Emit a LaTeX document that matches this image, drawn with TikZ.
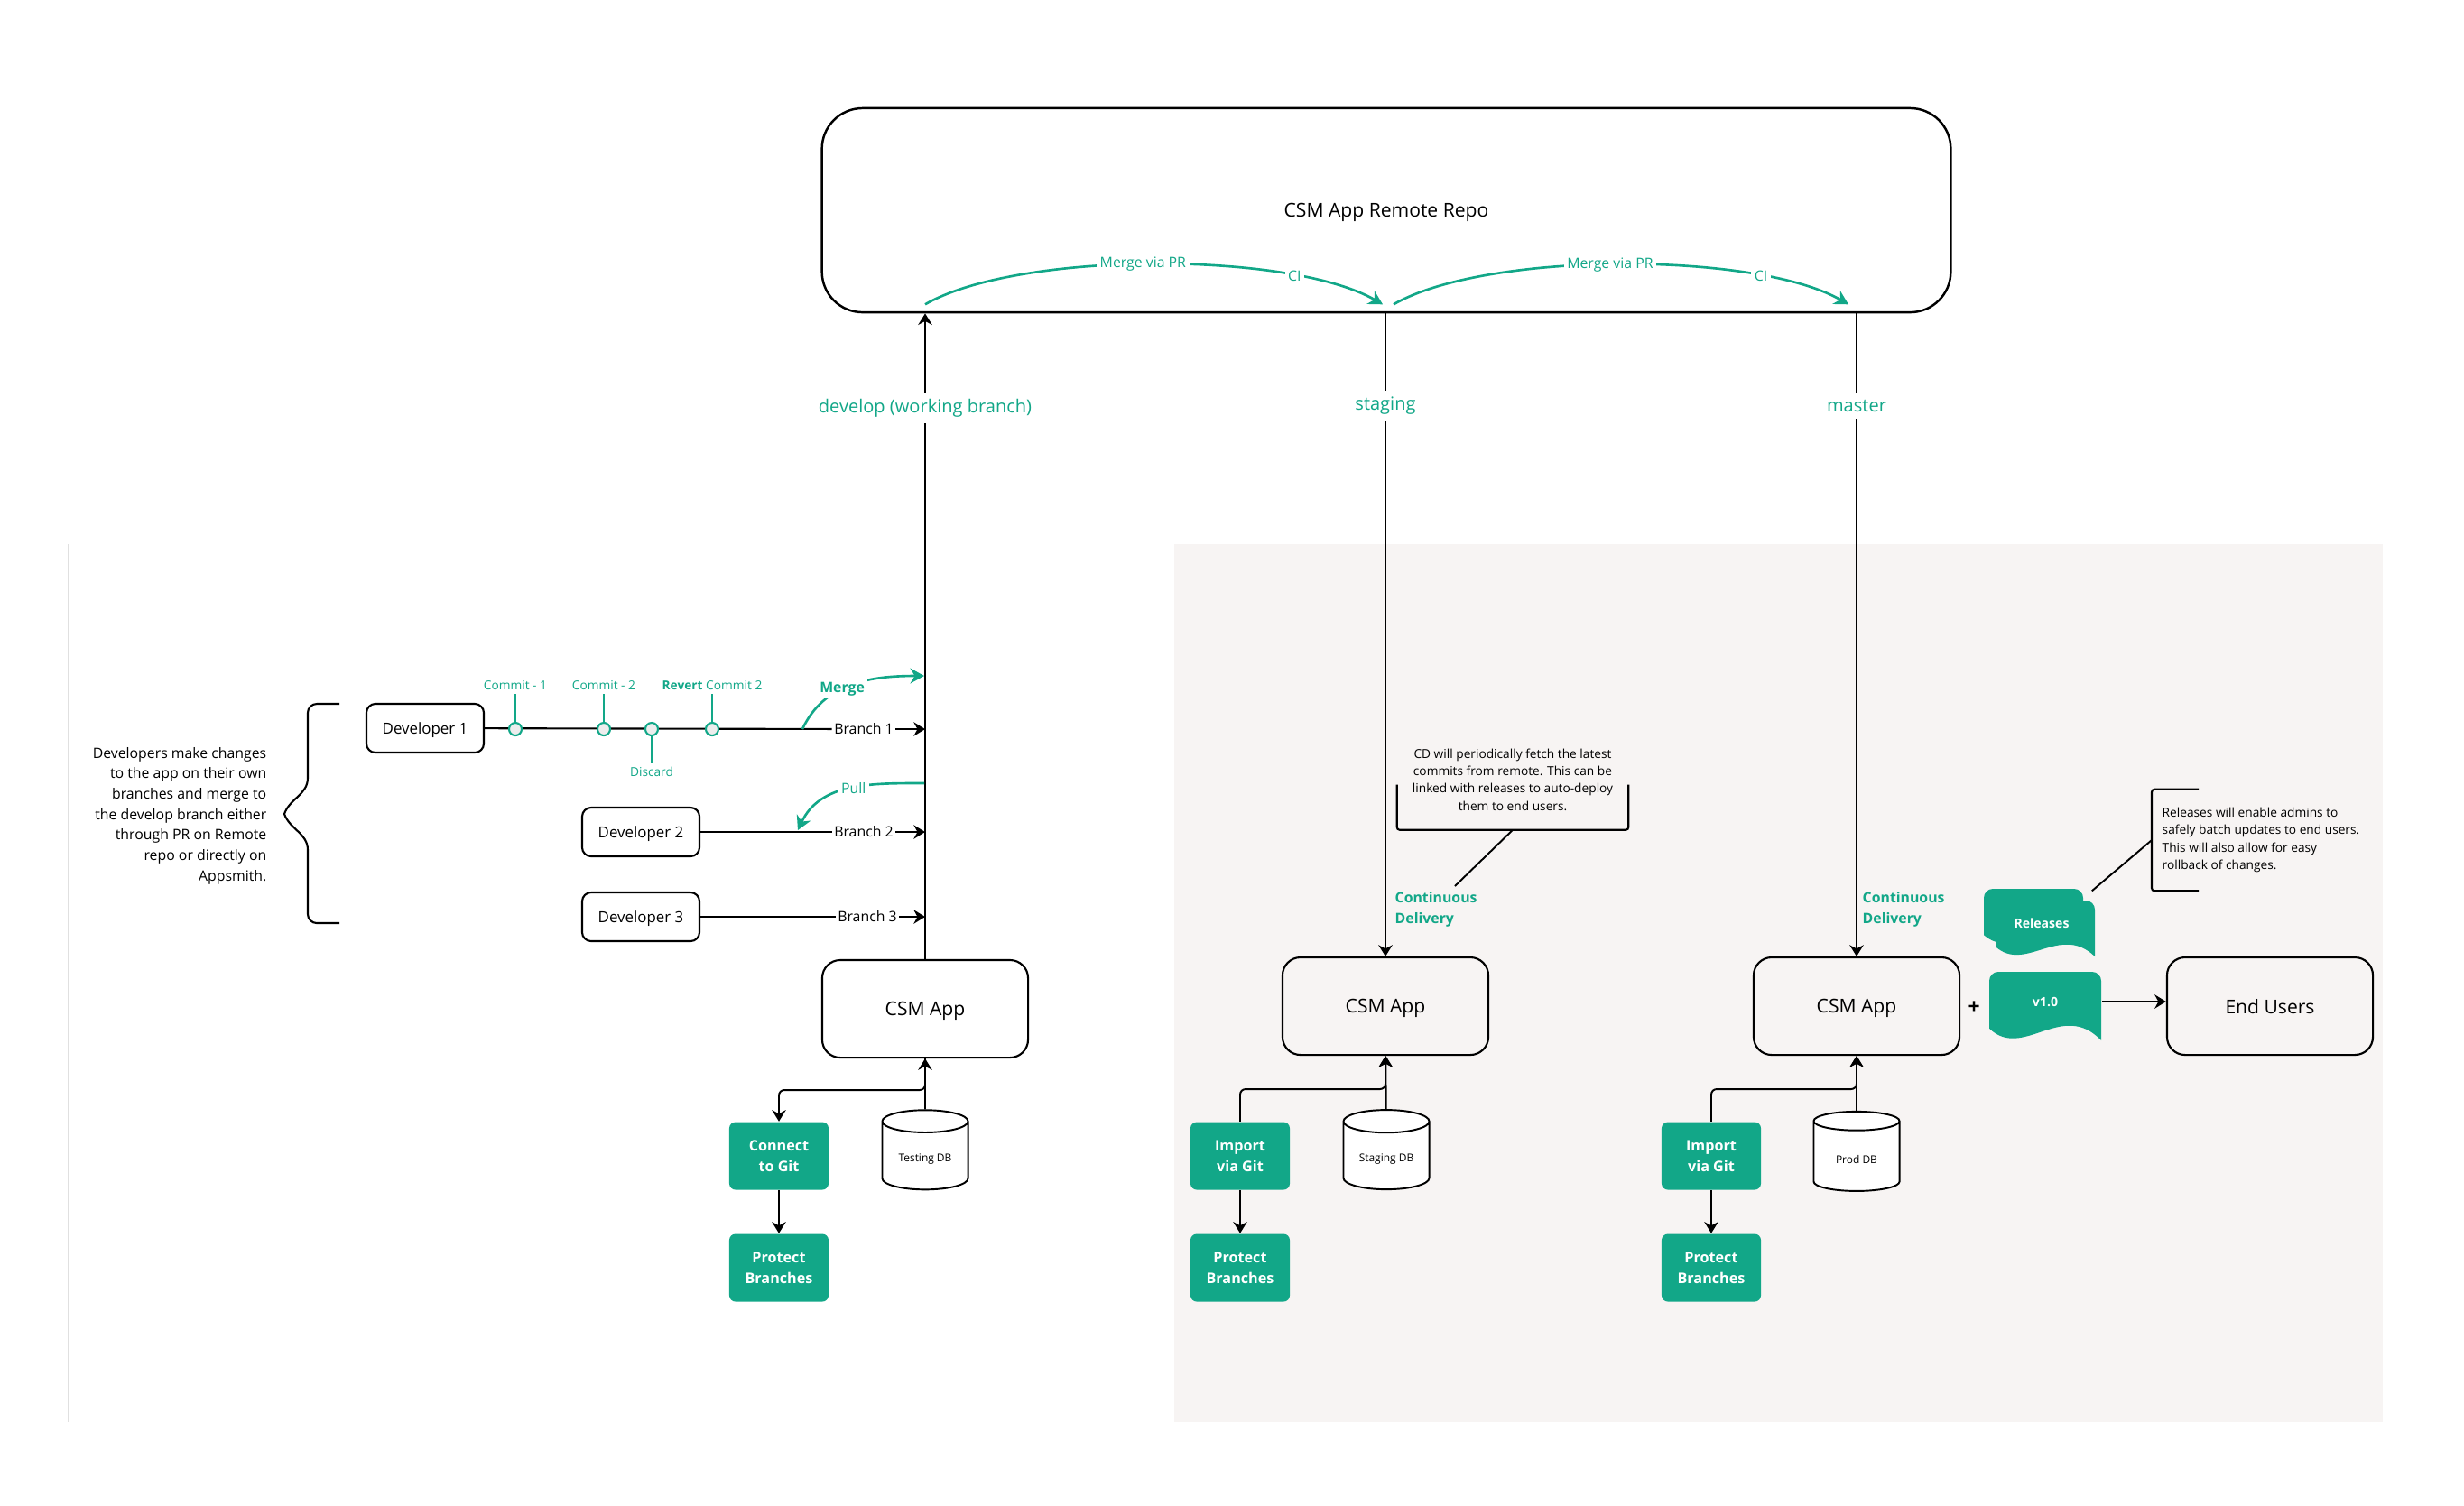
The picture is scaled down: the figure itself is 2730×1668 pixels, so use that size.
\documentclass[tikz,border=0pt]{standalone}
\usepackage{fontspec}
\setmainfont{Open Sans}
\usepackage{tikz}
\usetikzlibrary{shapes.geometric, arrows.meta, positioning, calc}
\usepackage{xcolor}
\definecolor{gitgreen}{HTML}{12A788}
\definecolor{panelgray}{HTML}{F7F4F3}
\definecolor{commitfill}{HTML}{EDEDED}

% wavy document shape: centre x, centre y, half width, half height
\newcommand\wavedoc[4]{%
  \fill[gitgreen] ({#1-#3},{#2-0.65*#4}) -- ({#1-#3},{#2+#4-10})
    arc[start angle=180, end angle=90, radius=0.1cm] -- ({#1+#3-10},{#2+#4})
    arc[start angle=90, end angle=0, radius=0.1cm] -- ({#1+#3},{#2-#4})
    .. controls ({#1+0.3*#3},{#2+0.2*#4}) and ({#1-0.4*#3},{#2-1.6*#4}) .. ({#1-#3},{#2-0.65*#4}) -- cycle;}

\tikzset{
  arr/.style={-{Stealth[length=3.6pt,width=4.4pt]}, line width=0.55pt},
  greenarr/.style={gitgreen, line width=0.75pt, -{Stealth[length=4.4pt,width=4.8pt]}},
  appbox/.style={draw, line width=0.6pt, rounded corners=0.2cm, minimum width=2.28cm, minimum height=1.08cm, text depth=0pt, font=\fontsize{6}{7.2}\selectfont},
  devbox/.style={draw, line width=0.6pt, rounded corners=0.1cm, minimum width=1.3cm, minimum height=0.54cm, text depth=0pt, font=\fontsize{4.8}{5.8}\selectfont},
  gitbox/.style={fill=gitgreen, text=white, rounded corners=0.07cm, minimum width=1.1cm, minimum height=0.75cm, align=center, text depth=0pt, font=\fontsize{4.6}{6.6}\selectfont\bfseries},
  dbcyl/.style={cylinder, shape border rotate=90, draw, line width=0.55pt, fill=white, aspect=0.3, minimum width=0.95cm, minimum height=0.88cm, font=\fontsize{3.4}{4}\selectfont},
  branchtxt/.style={inner sep=0.6pt, font=\fontsize{4.5}{5.4}\selectfont},
  commit/.style={circle, draw=gitgreen, fill=commitfill, line width=0.6pt, minimum size=0.14cm, inner sep=0},
  commitlbl/.style={text=gitgreen, inner sep=1pt, font=\fontsize{3.9}{4.6}\selectfont},
  flowlbl/.style={text=gitgreen, fill=white, inner sep=1pt, font=\fontsize{4.5}{5.4}\selectfont},
  branchlbl/.style={text=gitgreen, fill=white, inner sep=2pt, font=\fontsize{5.7}{6.8}\selectfont},
  cdlbl/.style={text=gitgreen, align=left, inner sep=0, font=\fontsize{4.5}{6.45}\selectfont\bfseries},
  notetxt/.style={inner sep=0, font=\fontsize{3.9}{5.5}\selectfont},
  doclbl/.style={text=white, inner sep=0, font=\fontsize{4}{4.8}\selectfont\bfseries},
}

\begin{document}
\begin{tikzpicture}[x=0.01cm, y=0.01cm]
\useasboundingbox (0,0) rectangle (2730,-1668);

% panels
\fill[panelgray] (1301,-603) rectangle (2640,-1576);
\draw[black!12, line width=0.5pt] (76,-603) -- (76,-1576);

% remote repo
\node[draw, line width=0.7pt, rounded corners=0.45cm, minimum width=12.5cm, minimum height=2.26cm, text depth=0pt, font=\fontsize{6}{7.2}\selectfont] (repo) at (1536,-233) {CSM App Remote Repo};

% apps
\node[appbox] (app1) at (1025,-1118) {CSM App};
\node[appbox] (app2) at (1535,-1115) {CSM App};
\node[appbox] (app3) at (2057,-1115) {CSM App};
\node[appbox] (users) at (2515,-1115) {End Users};

% git steps
\node[gitbox] (git1) at (863,-1281) {Connect\\to Git};
\node[gitbox] (prot1) at (863,-1405) {Protect\\Branches};
\node[gitbox] (imp2) at (1374,-1281) {Import\\via Git};
\node[gitbox] (prot2) at (1374,-1405) {Protect\\Branches};
\node[gitbox] (imp3) at (1896,-1281) {Import\\via Git};
\node[gitbox] (prot3) at (1896,-1405) {Protect\\Branches};

% databases
\node[dbcyl] (db1) at (1025,-1285) {Testing DB};
\node[dbcyl] (db2) at (1536,-1285) {Staging DB};
\node[dbcyl] (db3) at (2057,-1285) {Prod DB};

\coordinate (j1) at (1025,-1208);
\coordinate (j2) at (1535,-1207);
\coordinate (j3) at (2057,-1207);

\draw[arr] (db1) -- (app1);
\draw[arr, rounded corners=0.06cm] (app1.south) -- (j1) -| (git1.north);
\draw[arr] (git1) -- (prot1);
\draw[arr] (db2) -- (app2);
\draw[arr, rounded corners=0.06cm] (imp2.north) |- (j2) -- (app2.south);
\draw[arr] (imp2) -- (prot2);
\draw[arr] (db3) -- (app3);
\draw[arr, rounded corners=0.06cm] (imp3.north) |- (j3) -- (app3.south);
\draw[arr] (imp3) -- (prot3);

% branches to remote
\draw[arr] (app1.north) -- node[pos=0.854, branchlbl] (devlbl) {develop (working branch)} (app1.north |- repo.south);
\draw[arr] (app2.north |- repo.south) -- node[pos=0.144, branchlbl] (stglbl) {staging} (app2.north);
\draw[arr] (app3.north |- repo.south) -- node[pos=0.144, branchlbl] (mstlbl) {master} (app3.north);

\draw[greenarr] ([yshift=0.1cm]app1.north |- repo.south) to[out=30, in=150, looseness=0.6]
  node[pos=0.48, flowlbl] (mpr1) {Merge via PR} node[pos=0.77, flowlbl] (ci1) {CI}
  ([xshift=-0.03cm, yshift=0.1cm]app2.north |- repo.south);
\draw[greenarr] ([xshift=0.09cm, yshift=0.1cm]app2.north |- repo.south) to[out=30, in=150, looseness=0.6]
  node[pos=0.48, flowlbl] (mpr2) {Merge via PR} node[pos=0.77, flowlbl] (ci2) {CI}
  ([xshift=-0.09cm, yshift=0.1cm]app3.north |- repo.south);

% developers
\node[devbox] (dev1) at (471,-807) {Developer 1};
\node[devbox] (dev2) at (710,-922) {Developer 2};
\node[devbox] (dev3) at (710,-1016) {Developer 3};
\node[branchtxt] (b1) at (957,-808) {Branch 1};
\node[branchtxt] (b2) at (957,-922) {Branch 2};
\node[branchtxt] (b3) at (961,-1016) {Branch 3};

\draw[line width=0.6pt] (dev1) -- (b1);
\draw[line width=0.6pt] (dev2) -- (b2);
\draw[line width=0.6pt] (dev3) -- (b3);
\draw[arr] (b1) -- (b1 -| app1.north);
\draw[arr] (b2) -- (b2 -| app1.north);
\draw[arr] (b3) -- (b3 -| app1.north);

% commits
\node[commitlbl] (c1l) at (571,-760) {Commit - 1};
\node[commitlbl] (c2l) at (669,-760) {Commit - 2};
\node[commitlbl] (rvtl) at (789,-760) {\textbf{Revert} Commit 2};
\node[commitlbl] (dscl) at (722,-855) {Discard};
\node[commit] (c1) at (571,-808) {};
\node[commit] (c2) at (669,-808) {};
\node[commit] (dsc) at (722,-808) {};
\node[commit] (rvt) at (789,-808) {};
\draw[gitgreen, line width=0.6pt] (c1) -- (c1l);
\draw[gitgreen, line width=0.6pt] (c2) -- (c2l);
\draw[gitgreen, line width=0.6pt] (rvt) -- (rvtl);
\draw[gitgreen, line width=0.6pt] (dsc) -- (dscl);

\coordinate (mergefrom) at (889,-808);
\coordinate (mergeto) at (1024,-749);
\coordinate (pullfrom) at (1024,-868);
\coordinate (pullto) at (884,-920);
\draw[greenarr] (mergefrom) to[out=65, in=180] node[pos=0.42, flowlbl, font=\fontsize{4.5}{5.4}\selectfont\bfseries] (mrglbl) {Merge} (mergeto);
\draw[greenarr] (pullfrom) to[out=180, in=65] node[pos=0.47, flowlbl] (pulllbl) {Pull} (pullto);

% brace and note
\draw[line width=0.6pt] (376,-780) -- (351,-780) to[out=180, in=90] (341,-790) -- (341,-862)
  to[out=-90, in=70] (315,-902) to[out=-70, in=90] (341,-942) -- (341,-1013)
  to[out=-90, in=180] (351,-1023) -- (376,-1023);
\node[align=right, anchor=east, inner sep=0, font=\fontsize{4.5}{6.45}\selectfont] (devnote) at (296,-904)
  {Developers make changes\\to the app on their own\\branches and merge to\\the develop branch either\\through PR on Remote\\repo or directly on\\Appsmith.};

% continuous delivery
\node[notetxt, align=center, minimum width=2.55cm, minimum height=1.1cm] (cdnote) at (1676,-864)
  {CD will periodically fetch the latest\\commits from remote. This can be\\linked with releases to auto-deploy\\them to end users.};
\draw[line width=0.6pt, rounded corners=0.03cm] ([yshift=0.5cm]cdnote.south west) -- (cdnote.south west) -- (cdnote.south east) -- ([yshift=0.5cm]cdnote.south east);
\coordinate (cdtip) at (1612,-982);
\draw[line width=0.55pt] (cdnote.south) -- (cdtip);
\node[cdlbl, anchor=west] (cd2) at (1545,-1008) {Continuous\\Delivery};
\node[cdlbl, anchor=west] (cd3) at (2063,-1008) {Continuous\\Delivery};

% releases
\node[font=\fontsize{6.5}{7}\selectfont\bfseries, inner sep=0] (plus) at (2187,-1117) {+};
\wavedoc{2266}{-1029}{55}{31}
\wavedoc{2253}{-1016}{55}{31}
\node[doclbl, minimum width=1.1cm, minimum height=0.7cm] (rel) at (2262,-1023) {Releases};
\wavedoc{2266}{-1115}{62}{38}
\node[doclbl, minimum width=1.24cm] (v1) at (2266,-1110) {v1.0};
\draw[arr] (v1.east) -- (v1.east -| users.west);

\node[notetxt, align=left, anchor=west, inner xsep=0.11cm, minimum height=1.11cm] (relnote) at (2384,-931)
  {Releases will enable admins to\\safely batch updates to end users.\\This will also allow for easy\\rollback of changes.};
\draw[line width=0.6pt, rounded corners=0.03cm] ([xshift=0.52cm]relnote.north west) -- (relnote.north west) -- (relnote.south west) -- ([xshift=0.52cm]relnote.south west);
\draw[line width=0.55pt] (rel.north east) -- (relnote.west);

\end{tikzpicture}
\end{document}
